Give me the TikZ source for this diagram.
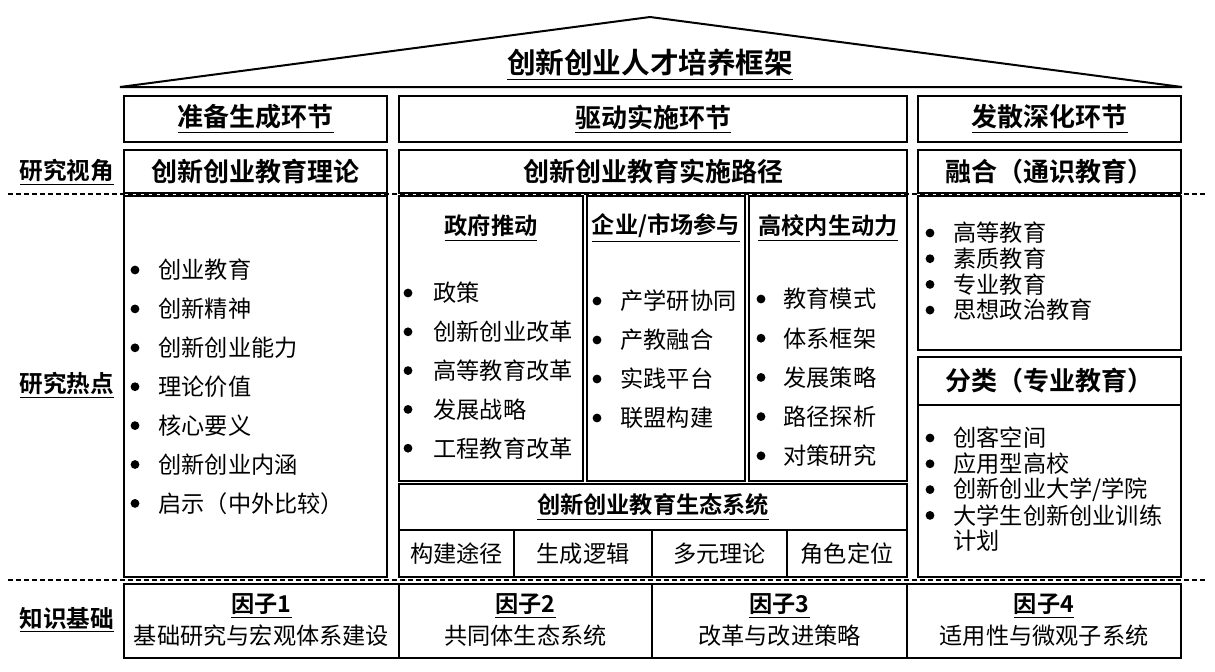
\documentclass[tikz,border=0pt]{standalone}
\usepackage{fontspec}
\setmainfont{Noto Sans CJK SC}[BoldFont={Noto Sans CJK SC Bold}]
\usetikzlibrary{fit}
\newcommand\Cell[7]{\node[cell,fit={(#2,#3) (#4,#5)}] (#1) {};\node[#6] (#1t) at (#1.center) {#7};}
\tikzset{
  cell/.style={draw, line width=1.1pt, inner sep=0pt},
  plain/.style={inner sep=0pt},
  txt/.style={inner sep=0pt, font=\fontsize{11.6}{13}\selectfont},
  hd/.style={inner sep=0pt, font=\fontsize{13}{15}\selectfont\bfseries},
  sub/.style={inner sep=0pt, font=\fontsize{11.6}{13}\selectfont\bfseries},
  side/.style={inner sep=0pt, font=\fontsize{11.8}{13}\selectfont\bfseries},
  ttl/.style={inner sep=0pt, font=\fontsize{14.3}{16}\selectfont\bfseries},
  dashline/.style={line width=1pt, dash pattern=on 2.5pt off 1.5pt},
  roofline/.style={line width=1pt, line join=miter},
  bul/.style={fill=black}
}
\begin{document}
\begin{tikzpicture}[x=0.5pt,y=-0.5pt]
\useasboundingbox (0,0) rectangle (1215,671);
% dashed separators
\coordinate (d1l) at (8,194); \coordinate (d1r) at (1205,194);
\coordinate (d2l) at (8,580); \coordinate (d2r) at (1205,580);
\draw[dashline] (d1l) -- (d1r);
\draw[dashline] (d2l) -- (d2r);
% roof
\coordinate (rl) at (120,87); \coordinate (ra) at (650,17); \coordinate (rr) at (1182,87);
\draw[roofline] (rl) -- (ra) -- (rr) -- cycle;
\node[ttl] (title) at (650,65) {\underline{创新创业人才培养框架}};
% side labels
\node[side] (s1) at (67,172) {\underline{研究视角}};
\node[side] (s2) at (67,385) {\underline{研究热点}};
\node[side] (s3) at (67,620) {\underline{知识基础}};
% header row 1
\Cell{h1}{124}{96}{387}{142}{hd}{\underline{准备生成环节}}
\Cell{h2}{399}{96}{907}{142}{hd}{\underline{驱动实施环节}}
\Cell{h3}{918}{96}{1181}{142}{hd}{\underline{发散深化环节}}
% header row 2
\Cell{p1}{124}{150}{387}{193}{hd}{创新创业教育理论}
\Cell{p2}{399}{150}{907}{193}{hd}{创新创业教育实施路径}
\Cell{p3}{918}{150}{1181}{193}{hd}{融合（通识教育）}
% column A
\Cell{ca}{124}{196}{387}{577}{plain}{}
\foreach \t [count=\i] in {创业教育,创新精神,创新创业能力,理论价值,核心要义,创新创业内涵,启示（中外比较）}{
  \fill[bul] (135,{270+(\i-1)*38.9}) circle (2.2pt);
  \node[txt,anchor=west] (a\i) at (158,{270+(\i-1)*38.9}) {\t};
}
% column B sub-columns
\Cell{b1}{399}{196}{583}{481}{plain}{}
\Cell{b2}{587}{196}{745}{481}{plain}{}
\Cell{b3}{749}{196}{907}{481}{plain}{}
\node[sub] (b1h) at (491,228) {\underline{政府推动}};
\node[sub] (b2h) at (666,228) {\underline{企业/市场参与}};
\node[sub] (b3h) at (828,228) {\underline{高校内生动力}};
\foreach \t [count=\i] in {政策,创新创业改革,高等教育改革,发展战略,工程教育改革}{
  \fill[bul] (408,{293+(\i-1)*38.8}) circle (2.2pt);
  \node[txt,anchor=west] (ba\i) at (433,{293+(\i-1)*38.8}) {\t};
}
\foreach \t [count=\i] in {产学研协同,产教融合,实践平台,联盟构建}{
  \fill[bul] (597,{301+(\i-1)*39}) circle (2.2pt);
  \node[txt,anchor=west] (bb\i) at (620,{301+(\i-1)*39}) {\t};
}
\foreach \t [count=\i] in {教育模式,体系框架,发展策略,路径探析,对策研究}{
  \fill[bul] (761,{299+(\i-1)*39.2}) circle (2.2pt);
  \node[txt,anchor=west] (bc\i) at (783,{299+(\i-1)*39.2}) {\t};
}
% ecosystem
\Cell{eco}{399}{484}{907}{530}{sub}{\underline{创新创业教育生态系统}}
\Cell{e1}{399}{530}{514}{577}{txt}{构建途径}
\Cell{e2}{514}{530}{652}{577}{txt}{生成逻辑}
\Cell{e3}{652}{530}{787}{577}{txt}{多元理论}
\Cell{e4}{787}{530}{907}{577}{txt}{角色定位}
% column C
\Cell{c1}{918}{196}{1181}{350}{plain}{}
\foreach \t [count=\i] in {高等教育,素质教育,专业教育,思想政治教育}{
  \fill[bul] (930,{233+(\i-1)*25.7}) circle (2.2pt);
  \node[txt,anchor=west] (ca\i) at (953,{233+(\i-1)*25.7}) {\t};
}
\Cell{c2h}{918}{357}{1181}{405}{hd}{分类（专业教育）}
\Cell{c2}{918}{405}{1181}{577}{plain}{}
\foreach \t [count=\i] in {创客空间,应用型高校,创新创业大学/学院,大学生创新创业训练}{
  \fill[bul] (930,{438+(\i-1)*25.8}) circle (2.2pt);
  \node[txt,anchor=west] (cb\i) at (953,{438+(\i-1)*25.8}) {\t};
}
\node[txt,anchor=west] (cb5) at (953,541) {计划};
% bottom row
\Cell{f1}{124}{584}{399}{658}{plain}{}
\Cell{f2}{399}{584}{652}{658}{plain}{}
\Cell{f3}{652}{584}{907}{658}{plain}{}
\Cell{f4}{907}{584}{1181}{658}{plain}{}
\node[sub] (f1a) at (261.5,606) {\underline{因子1}};
\node[txt] (f1b) at (261.5,636) {基础研究与宏观体系建设};
\node[sub] (f2a) at (525.5,606) {\underline{因子2}};
\node[txt] (f2b) at (525.5,636) {共同体生态系统};
\node[sub] (f3a) at (779.5,606) {\underline{因子3}};
\node[txt] (f3b) at (779.5,636) {改革与改进策略};
\node[sub] (f4a) at (1044,606) {\underline{因子4}};
\node[txt] (f4b) at (1044,636) {适用性与微观子系统};
\end{tikzpicture}
\end{document}
